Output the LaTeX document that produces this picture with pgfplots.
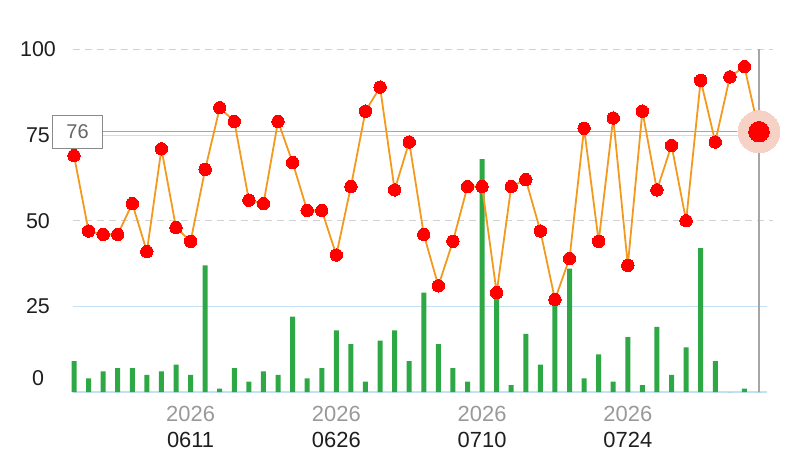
\documentclass[border=0pt]{standalone}
\usepackage{pgfplots}
\usepackage{pgfplotstable}
\pgfplotsset{compat=1.18}
\usepackage{fontspec}
\setmainfont{Liberation Sans}
\definecolor{linec}{HTML}{F39A1E}
\definecolor{barc}{HTML}{2EA844}
\definecolor{gridb}{HTML}{C3E1F5}
\definecolor{gridd}{HTML}{D2D2D2}
\definecolor{cross}{HTML}{A6A6A6}
\definecolor{halo}{HTML}{F6D2C6}
\definecolor{lblgray}{HTML}{999999}
\definecolor{lbldark}{HTML}{1E1E1E}

\pgfplotstableread{
x line bar
0 69 9
1 47 4
2 46 6
3 46 7
4 55 7
5 41 5
6 71 6
7 48 8
8 44 5
9 65 37
10 83 1
11 79 7
12 56 3
13 55 6
14 79 5
15 67 22
16 53 4
17 53 7
18 40 18
19 60 14
20 82 3
21 89 15
22 59 18
23 73 9
24 46 29
25 31 14
26 44 7
27 60 3
28 60 68
29 29 28
30 60 2
31 62 17
32 47 8
33 27 27
34 39 36
35 77 4
36 44 11
37 80 3
38 37 16
39 82 2
40 59 19
41 72 5
42 50 13
43 91 42
44 73 9
45 92 0
46 95 1
47 76 0
}\data

\begin{document}
\begin{tikzpicture}
\path[use as bounding box] (0,0) rectangle (793bp,465bp);
\begin{axis}[
  at={(73bp,73bp)}, anchor=south west, scale only axis,
  width=694bp, height=342.5bp,
  xmin=-0.069, xmax=47.55, ymin=0, ymax=100,
  clip=false,
  axis line style={draw=none},
  major tick length=0,
  ytick={25,50,75,100},
  yticklabels={25,50,75,100},
  extra y ticks={0},
  extra y tick labels={0},
  extra y tick style={yticklabel style={yshift=14bp}},
  yticklabel style={anchor=center, xshift=-35bp, font=\fontsize{21.5}{24}\selectfont, text=lbldark},
  xtick={8,18,28,38},
  xticklabels={{\textcolor{lblgray}{2026}\\0611},{\textcolor{lblgray}{2026}\\0626},{\textcolor{lblgray}{2026}\\0710},{\textcolor{lblgray}{2026}\\0724}},
  xticklabel style={align=center, font=\fontsize{22}{26}\selectfont, text=lbldark, yshift=-11bp},
]
% grid
\draw[gridd, line width=1.2bp, dash pattern=on 7bp off 5bp] (axis cs:-0.069,100) -- (axis cs:47.95,100);
\draw[gridd, line width=1.2bp, dash pattern=on 7bp off 5bp] (axis cs:-0.069,50) -- (axis cs:47.95,50);
\draw[gridb, line width=1.2bp] (axis cs:-0.069,75) -- (axis cs:47.55,75);
\draw[gridb, line width=1.2bp] (axis cs:-0.069,25) -- (axis cs:47.55,25);
\draw[gridb, line width=1.5bp] (axis cs:-0.069,0) -- (axis cs:47.55,0);
% bars
\addplot[ybar, bar width=5bp, bar shift=0pt, fill=barc, draw=none] table[x=x,y=bar]{\data};
% crosshair
\addplot[cross, line width=1.2bp] coordinates {(47,0) (47,100)};
\addplot[cross, line width=1.2bp] coordinates {(0.24,76) (47,76)};
% line
\addplot[linec, line width=1.8bp, mark=*, mark size=6.2bp, mark options={fill=red, draw=red, line width=0pt}] table[x=x,y=line]{\data};
% highlight
\addplot[only marks, mark=*, mark size=21bp, mark options={fill=halo, draw=halo, line width=0pt}] coordinates {(47,76)};
\addplot[only marks, mark=*, mark size=10.3bp, mark options={fill=red, draw=red, line width=0pt}] coordinates {(47,76)};
% value box
\node[draw=lblgray!90!black, line width=1bp, fill=white, minimum width=50bp, minimum height=33bp, inner sep=0pt, text=black!60, font=\fontsize{20}{24}\selectfont] at (axis cs:0.24,76) {76};
\end{axis}
\end{tikzpicture}
\end{document}
